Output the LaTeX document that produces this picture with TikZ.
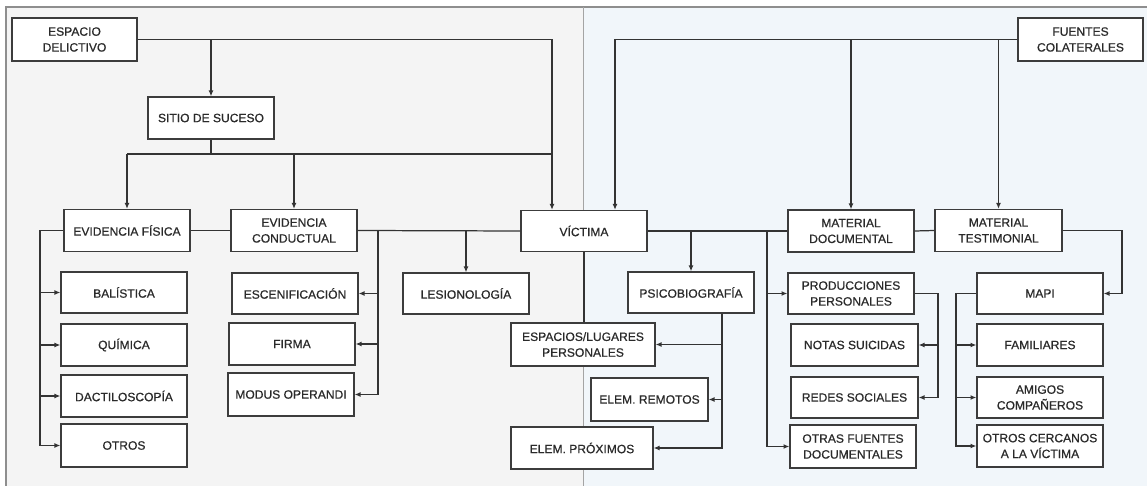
\documentclass[tikz,border=0pt]{standalone}
\usepackage{fontspec}
\setmainfont{Liberation Sans}
\newfontfamily\boxfont{Liberation Sans}[FakeBold=0.6]
\usetikzlibrary{arrows.meta}
\definecolor{panelL}{HTML}{F4F4F4}
\definecolor{panelR}{HTML}{F1F6FA}
\definecolor{frameC}{HTML}{8E8E8E}
\definecolor{lineC}{HTML}{333333}
\definecolor{boxC}{HTML}{3C3C3C}
\definecolor{txtC}{HTML}{2A2A2A}
\tikzset{
  bx/.style={draw=boxC, line width=1.1pt, fill=white, minimum width=3.78cm, minimum height=1.26cm,
    inner sep=1pt, align=center, text=txtC, font=\boxfont\fontsize{10.3}{13.5}\selectfont},
  ln/.style={draw=lineC, line width=1.05pt},
  arr/.style={ln, -{Latex[length=5pt,width=4.2pt]}},
}
\begin{document}
\begin{tikzpicture}[x=0.03cm, y=-0.03cm]
\useasboundingbox (0,0) rectangle (1147,486);
% panels
\fill[white] (0,0) rectangle (1147,486);
\fill[panelL] (6,7) rectangle (583,486);
\fill[panelR] (583,7) rectangle (1147,486);
\draw[frameC, line width=0.9pt] (6,486) -- (6,7) -- (1147,7);
\draw[frameC!80, line width=0.8pt] (583,7) -- (583,486);

% nodes
\node[bx, minimum width=3.75cm, minimum height=1.29cm] (esp) at (74.5,39.5) {ESPACIO\\DELICTIVO};
\node[bx] (sitio) at (211,118) {SITIO DE SUCESO};
\node[bx, minimum width=3.75cm, minimum height=1.29cm] (fuentes) at (1080.5,39.5) {FUENTES\\COLATERALES};

\node[bx] (ef) at (127,230.5) {EVIDENCIA FÍSICA};
\node[bx] (ec) at (294,230.5) {EVIDENCIA\\CONDUCTUAL};
\node[bx, minimum height=1.23cm] (vic) at (584,231) {VÍCTIMA};
\node[bx] (md) at (851,231) {MATERIAL\\DOCUMENTAL};
\node[bx, minimum width=3.81cm] (mt) at (998.5,230.5) {MATERIAL\\TESTIMONIAL};

\node[bx, minimum height=1.23cm] (bal) at (124,292.5) {BALÍSTICA};
\node[bx] (qui) at (124,345) {QUÍMICA};
\node[bx] (dac) at (124,396) {DACTILOSCOPÍA};
\node[bx, minimum height=1.29cm] (otr) at (124,445.5) {OTROS};

\node[bx, minimum height=1.23cm] (esc) at (295,293.5) {ESCENIFICACIÓN};
\node[bx] (fir) at (292,344) {FIRMA};
\node[bx, minimum height=1.29cm] (mod) at (291,394.5) {MODUS OPERANDI};

\node[bx, minimum height=1.23cm] (les) at (466,293.5) {LESIONOLOGÍA};
\node[bx, minimum height=1.23cm] (psi) at (691,292.5) {PSICOBIOGRAFÍA};
\node[bx, minimum width=4.32cm, minimum height=1.29cm] (elp) at (583,344.5) {ESPACIOS/LUGARES\\PERSONALES};
\node[bx, minimum width=3.51cm, minimum height=1.29cm] (elr) at (649.5,399.5) {ELEM. REMOTOS};
\node[bx, minimum width=4.26cm] (elx) at (582,448) {ELEM. PRÓXIMOS};

\node[bx, minimum height=1.23cm] (prod) at (851,293.5) {PRODUCCIONES\\PERSONALES};
\node[bx, minimum width=3.81cm] (not) at (854.5,345) {NOTAS SUICIDAS};
\node[bx, minimum width=3.81cm, minimum height=1.23cm] (red) at (854.5,397.5) {REDES SOCIALES};
\node[bx, minimum height=1.29cm] (ofd) at (853,446.5) {OTRAS FUENTES\\DOCUMENTALES};

\node[bx, minimum height=1.23cm] (mapi) at (1040,293.5) {MAPI};
\node[bx] (fam) at (1040,345) {FAMILIARES};
\node[bx, minimum height=1.23cm] (ami) at (1040,397.5) {AMIGOS\\COMPAÑEROS};
\node[bx] (ocv) at (1040,446) {OTROS CERCANOS\\A LA VÍCTIMA};

% helper coordinates (x positions of vertical runs, y of a horizontal run)
\coordinate (xa) at (552,0);
\coordinate (xb) at (615,0);
\coordinate (yb) at (0,154);
\coordinate (xl) at (40,0);
\coordinate (xc) at (378,0);
\coordinate (xp) at (722,0);
\coordinate (xm) at (767,0);
\coordinate (xq) at (938,0);
\coordinate (xr) at (1122,0);
\coordinate (xs) at (956,0);

% top-level connectors
\draw[arr] (esp.east) -| (xa |- vic.north);
\draw[arr] (sitio.north |- esp.east) -- (sitio.north);
\draw[ln] (sitio.south) -- (sitio.south |- yb);
\draw[ln] (ef.north |- yb) -- (xa |- yb);
\draw[arr] (ef.north |- yb) -- (ef.north);
\draw[arr] (ec.north |- yb) -- (ec.north);
\draw[arr] (fuentes.west) -| (xb |- vic.north);
\draw[arr] (md.north |- fuentes.west) -- (md.north);
\draw[arr] (mt.north |- fuentes.west) -- (mt.north);

% main horizontal
\draw[ln] (ef.east) -- (ec.west);
\draw[ln] (ec.east) -- (vic.west);
\draw[ln] (vic.east) -- (md.west);
\draw[ln] (md.east) -- (mt.west);

% evidencia fisica
\draw[arr] (ef.west) -| (xl |- otr.west) -- (otr.west);
\draw[arr] (xl |- bal.west) -- (bal.west);
\draw[arr] (xl |- qui.west) -- (qui.west);
\draw[arr] (xl |- dac.west) -- (dac.west);

% evidencia conductual
\draw[arr] (xc |- ec.east) |- (mod.east);
\draw[arr] (xc |- esc.east) -- (esc.east);
\draw[arr] (xc |- fir.east) -- (fir.east);

% victima
\draw[arr] (les.north |- vic.west) -- (les.north);
\draw[arr] (psi.north |- vic.east) -- (psi.north);
\draw[ln] (vic.south) -- (vic.south |- elp.north);

% psicobiografia
\draw[arr] (xp |- psi.south) |- (elx.east);
\draw[arr] (xp |- elp.east) -- (elp.east);
\draw[arr] (xp |- elr.east) -- (elr.east);

% material documental
\draw[arr] (xm |- md.west) |- (ofd.west);
\draw[arr] (xm |- prod.west) -- (prod.west);
\draw[arr] (prod.east) -| (xq |- red.east) -- (red.east);
\draw[arr] (xq |- not.east) -- (not.east);

% material testimonial
\draw[arr] (mt.east) -| (xr |- mapi.east) -- (mapi.east);
\draw[arr] (mapi.west) -| (xs |- ocv.west) -- (ocv.west);
\draw[arr] (xs |- fam.west) -- (fam.west);
\draw[arr] (xs |- ami.west) -- (ami.west);
\end{tikzpicture}
\end{document}
